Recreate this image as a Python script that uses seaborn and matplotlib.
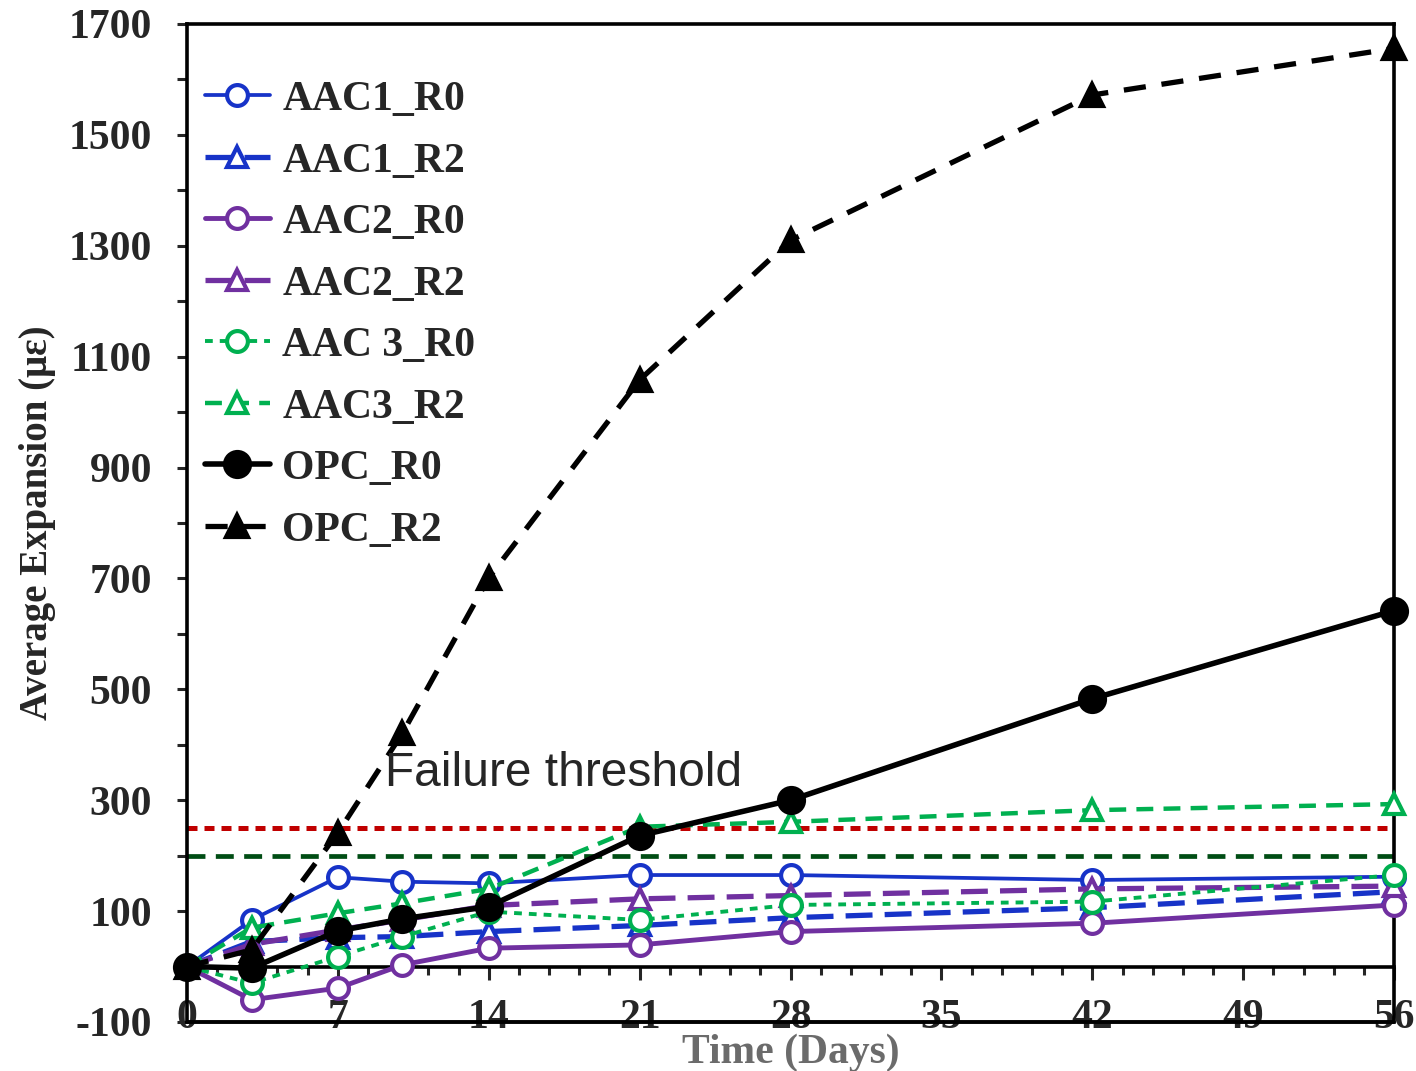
import numpy as np
import pandas as pd
import matplotlib
matplotlib.use("Agg")
import matplotlib.pyplot as plt
import seaborn as sns
from matplotlib.lines import Line2D

days = [0, 3, 7, 10, 14, 21, 28, 42, 56]

aac1_r0 = [0, 84, 161, 153, 150, 165, 165, 156, 162]
aac1_r2 = [0, 45, 52, 54, 63, 74, 88, 106, 135]
aac2_r0 = [0, -60, -39, 3, 33, 39, 63, 78, 111]
aac2_r2 = [0, 40, 66, 84, 110, 122, 128, 140, 145]
aac3_r0 = [0, -30, 18, 54, 99, 84, 111, 117, 165]
aac3_r2 = [0, 70, 96, 114, 140, 252, 261, 282, 293]
opc_r0 = [0, -3, 64, 86, 108, 236, 300, 483, 642]
opc_r2 = [0, 30, 241, 421, 701, 1058, 1310, 1572, 1656]

series_names = ["AAC1_R0", "AAC1_R2", "AAC2_R0", "AAC2_R2",
                "AAC 3_R0", "AAC3_R2", "OPC_R0", "OPC_R2"]
series_values = [aac1_r0, aac1_r2, aac2_r0, aac2_r2, aac3_r0, aac3_r2, opc_r0, opc_r2]

threshold_red = 250
threshold_green = 200

x_ticks = [0, 7, 14, 21, 28, 35, 42, 49, 56]
y_ticks = list(range(-100, 1701, 200))

BLUE = "#1733c8"
PURPLE = "#7030a0"
GREEN = "#00b050"
BLACK = "#000000"

styles = {
    "AAC1_R0": dict(color=BLUE, lw=2.7, ls="-", marker="o", mfc="white", ms=15),
    "AAC1_R2": dict(color=BLUE, lw=3.8, ls=(0, (5.1, 2.3)), marker="^", mfc="white", ms=14),
    "AAC2_R0": dict(color=PURPLE, lw=3.5, ls="-", marker="o", mfc="white", ms=15),
    "AAC2_R2": dict(color=PURPLE, lw=3.8, ls=(0, (5.1, 2.3)), marker="^", mfc="white", ms=14),
    "AAC 3_R0": dict(color=GREEN, lw=2.8, ls=(0, (2.0, 1.8)), marker="o", mfc="white", ms=15),
    "AAC3_R2": dict(color=GREEN, lw=3.2, ls=(0, (3.8, 2.3)), marker="^", mfc="white", ms=14),
    "OPC_R0": dict(color=BLACK, lw=4.0, ls="-", marker="o", mfc=BLACK, ms=18),
    "OPC_R2": dict(color=BLACK, lw=3.8, ls=(0, (4.2, 3.0)), marker="^", mfc=BLACK, ms=16),
}

sns.set_style("white")
plt.rcParams["font.family"] = ["Liberation Serif", "DejaVu Serif"]
plt.rcParams["axes.unicode_minus"] = False

fig = plt.figure(figsize=(14.16, 10.71), dpi=100)
ax = fig.add_axes([0.132, 0.0458, 0.8526, 0.9318])

# threshold lines
ax.axhline(threshold_red, color="#c00000", lw=3.6, ls=(0, (2, 1.4)), zorder=1)
ax.axhline(threshold_green, color="#004d14", lw=3.4, ls=(0, (3.8, 2.2)), zorder=1)

handles = []
for i, (name, vals) in enumerate(zip(series_names, series_values)):
    st = styles[name]
    df = pd.DataFrame({"Day": days, "Value": vals})
    sns.lineplot(data=df, x="Day", y="Value", ax=ax, color=st["color"],
                 linewidth=st["lw"], linestyle=st["ls"], marker=st["marker"],
                 markersize=st["ms"], markerfacecolor=st["mfc"],
                 markeredgecolor=st["color"], markeredgewidth=3.0,
                 zorder=3 + i, clip_on=False, legend=False)
    handles.append(Line2D([], [], color=st["color"], lw=st["lw"], ls=st["ls"],
                          marker=st["marker"], ms=st["ms"],
                          mfc=st["mfc"], mec=st["color"], mew=3.0))

ax.set_xlim(0, 56)
ax.set_ylim(-100, 1700)

for s in ["left", "right", "top"]:
    ax.spines[s].set_visible(True)
    ax.spines[s].set_color("black")
    ax.spines[s].set_linewidth(2.6)
ax.spines["bottom"].set_position(("data", 0))
ax.spines["bottom"].set_color("black")
ax.spines["bottom"].set_linewidth(2.6)
ax.axhline(-100, color="black", lw=2.8, clip_on=False, zorder=20)

ax.set_xticks(x_ticks)
ax.set_xticks(np.arange(0, 56.01, 1.4), minor=True)
ax.set_yticks(y_ticks)
ax.set_yticks(list(range(0, 1700, 200)), minor=True)

ax.tick_params(axis="x", which="major", direction="out", length=9.5, width=2.2,
               pad=14, labelsize=30, bottom=True, top=False)
ax.tick_params(axis="x", which="minor", direction="out", length=6, width=2.2,
               bottom=True, top=False)
ax.tick_params(axis="y", which="both", direction="out", length=7, width=2.2,
               pad=18, labelsize=30, left=True, right=False)
for lab in ax.get_xticklabels() + ax.get_yticklabels():
    lab.set_fontweight("bold")

ax.set_xlabel("Time (Days)", fontsize=30, fontweight="bold", color="#6b6b6b")
ax.xaxis.set_label_coords(0.5, -0.031)
ax.xaxis.label.set_va("center")
ax.set_ylabel("Average Expansion (με)", fontsize=28, fontweight="bold")
ax.yaxis.set_label_coords(-0.124, 0.5)
ax.yaxis.label.set_va("center")

ax.text(9.19, 349, "Failure threshold", fontsize=34.5, family="Liberation Sans",
        ha="left", va="center", zorder=30)

leg = ax.legend(handles, series_names, loc="upper left",
                bbox_to_anchor=(-0.004, 0.966), frameon=False,
                prop={"family": "Liberation Serif", "weight": "bold", "size": 30},
                handlelength=1.56, handletextpad=0.3, labelspacing=0.56,
                borderaxespad=0.15)

fig.savefig("out.png", dpi=100)
